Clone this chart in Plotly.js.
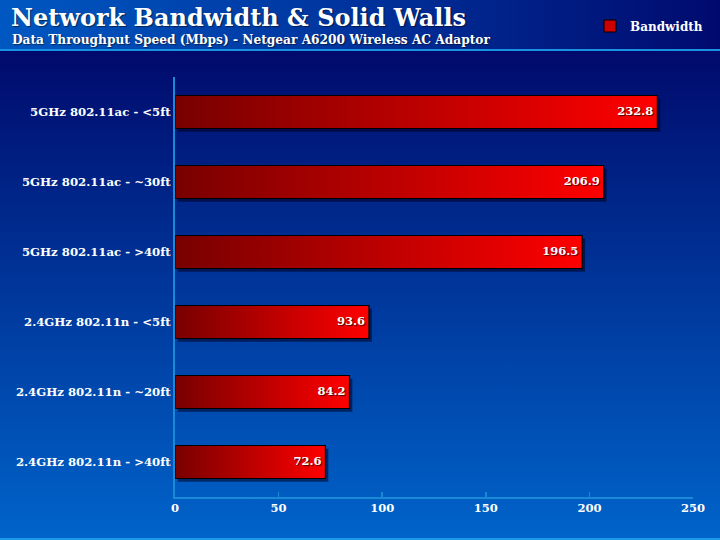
<!DOCTYPE html>
<html>
<head>
<meta charset="utf-8">
<script src="https://cdn.plot.ly/plotly-3.0.1.min.js"></script>
<style>
  html, body { margin: 0; padding: 0; }
  #wrap { position: relative; width: 720px; height: 540px; overflow: hidden;
          background: linear-gradient(to bottom, #000a6c 0px, #000a6c 50px, #0064ca 540px); }
  #head { position: absolute; left: 0; top: 0; width: 720px; height: 49px;
          background: linear-gradient(to right, #0058c2 0%, #0036a0 45%, #000a6e 100%); }
  #hline { position: absolute; left: 0; top: 49px; width: 720px; height: 2px; background: #1a92e2; }
  #bline { position: absolute; left: 0; top: 538px; width: 720px; height: 2px; background: #1a9ae6; }
  #chart { position: absolute; left: 0; top: 0; width: 720px; height: 540px; }
</style>
</head>
<body>
<div id="wrap">
  <div id="head"></div>
  <div id="hline"></div>
  <div id="bline"></div>
  <div id="chart"></div>
</div>
<script>
const categories = [
  "5GHz 802.11ac - <5ft",
  "5GHz 802.11ac - ~30ft",
  "5GHz 802.11ac - >40ft",
  "2.4GHz 802.11n - <5ft",
  "2.4GHz 802.11n - ~20ft",
  "2.4GHz 802.11n - >40ft"
];
const bandwidth = [232.8, 206.9, 196.5, 93.6, 84.2, 72.6];
const xTicks = [0, 50, 100, 150, 200, 250];
const seriesName = "Bandwidth";
const titleText = "Network Bandwidth & Solid Walls";
const subtitleText = "Data Throughput Speed (Mbps) - Netgear A6200 Wireless AC Adaptor";

const FONT = "DejaVu Serif";
const half = 0.236;            // half bar thickness in category units
const shX = 1.4, shY = 0.045;  // shadow offset in data units

const idx = categories.map((_, i) => i);
const traces = [];

// shadows
bandwidth.forEach((v, i) => {
  traces.push({
    type: 'scatter', mode: 'lines', showlegend: false, hoverinfo: 'skip',
    x: [shX, v + shX, v + shX, shX, shX],
    y: [i - half + shY, i - half + shY, i + half + shY, i + half + shY, i - half + shY],
    fill: 'toself', fillcolor: 'rgba(0,0,30,0.55)',
    line: { width: 0, color: 'rgba(0,0,0,0)' }
  });
});

// bars with horizontal gradient
bandwidth.forEach((v, i) => {
  traces.push({
    type: 'scatter', mode: 'lines', showlegend: false,
    x: [0, v, v, 0, 0],
    y: [i - half, i - half, i + half, i + half, i - half],
    fill: 'toself',
    fillcolor: '#c00000',
    fillgradient: { type: 'horizontal', start: 0, stop: v,
                    colorscale: [[0, '#780000'], [1, '#ff0000']] },
    line: { width: 1.2, color: '#000000' },
    name: seriesName
  });
});

// value labels
traces.push({
  type: 'scatter', mode: 'text', showlegend: false, hoverinfo: 'skip',
  x: bandwidth, y: idx,
  text: bandwidth.map(v => v.toFixed(1) + ' '),
  textposition: 'middle left',
  textfont: { family: FONT, size: 11.5, color: '#ffffff', weight: 'bold',
              shadow: '1px 1px 1px rgba(0,0,0,0.7)' }
});

// legend entry
traces.push({
  type: 'bar', orientation: 'h', name: seriesName,
  x: [null], y: [0],
  marker: { color: '#cc0000', line: { color: '#000000', width: 1 } },
  showlegend: true, hoverinfo: 'skip'
});

const layout = {
  width: 720, height: 540,
  margin: { l: 175, r: 27, t: 77, b: 43, autoexpand: false },
  paper_bgcolor: 'rgba(0,0,0,0)',
  plot_bgcolor: 'rgba(0,0,0,0)',
  font: { family: FONT, color: '#ffffff', size: 11, weight: 'bold' },
  title: {
    text: titleText,
    font: { family: FONT, size: 24, color: '#ffffff', weight: 'bold',
            shadow: '1px 1px 1px rgba(0,0,0,0.5)' },
    xref: 'container', yref: 'container',
    x: 11 / 720, xanchor: 'left',
    y: 1 - 17.5 / 540, yanchor: 'middle'
  },
  annotations: [{
    text: subtitleText, showarrow: false,
    xref: 'paper', yref: 'paper',
    x: (10 - 175) / 518, xanchor: 'left',
    y: (497 - 40) / 420, yanchor: 'middle',
    font: { family: FONT, size: 12.2, color: '#ffffff', weight: 'bold',
            shadow: '1px 1px 1px rgba(0,0,0,0.5)' }
  }],
  showlegend: true,
  legend: {
    xref: 'container', yref: 'container',
    x: 590 / 720, xanchor: 'left',
    y: 1 - 26 / 540, yanchor: 'middle',
    bgcolor: 'rgba(0,0,0,0)',
    font: { family: FONT, size: 12, color: '#ffffff', weight: 'bold' },
    itemwidth: 30
  },
  xaxis: {
    range: [0, 250], tickvals: xTicks, ticktext: xTicks.map(String),
    showgrid: false, zeroline: false,
    showline: true, linecolor: '#1a8ad6', linewidth: 1.5,
    ticks: 'inside', ticklen: 5, tickcolor: '#1a8ad6', tickwidth: 1.5,
    tickfont: { family: FONT, size: 11.5, color: '#ffffff', weight: 'bold' },
    fixedrange: true
  },
  yaxis: {
    range: [5.5, -0.5],
    tickvals: idx, ticktext: categories,
    showgrid: false, zeroline: false,
    showline: true, linecolor: '#1a8ad6', linewidth: 2,
    ticks: '', ticklabelstandoff: 0,
    tickfont: { family: FONT, size: 11.7, color: '#ffffff', weight: 'bold' },
    fixedrange: true
  },
  bargap: 0.5
};

Plotly.newPlot('chart', traces, layout, { displayModeBar: false, staticPlot: true });
</script>
</body>
</html>
